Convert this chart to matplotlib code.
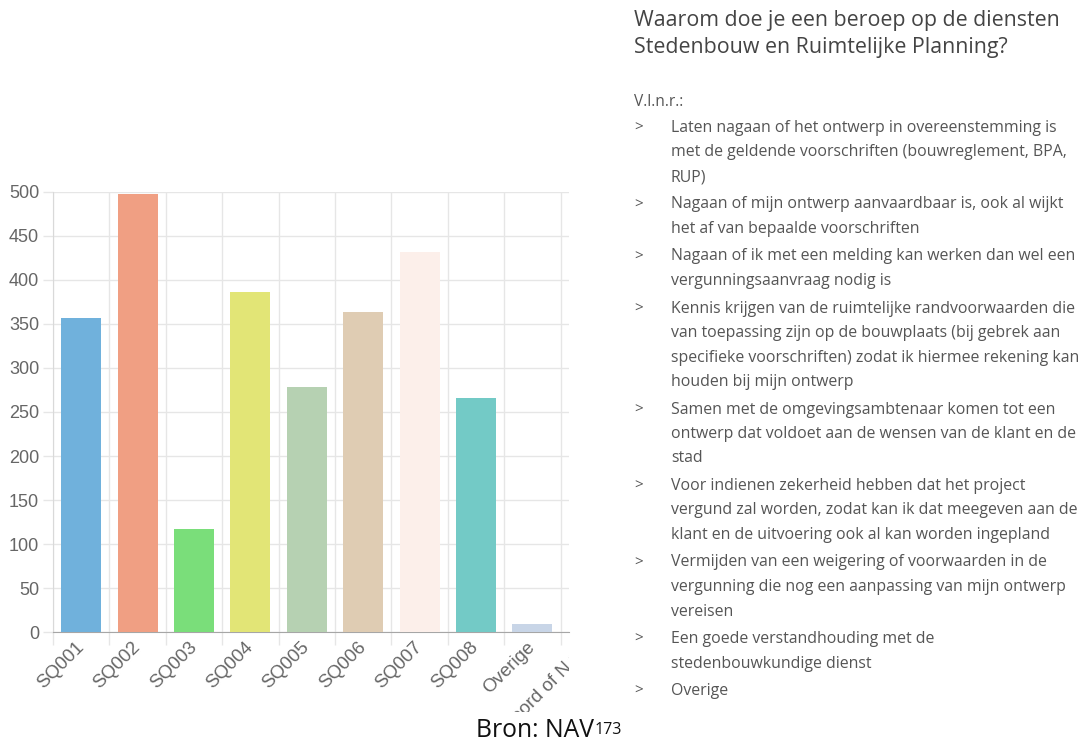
import numpy as np
import matplotlib
matplotlib.use("Agg")
import matplotlib.pyplot as plt
from matplotlib.transforms import Bbox, TransformedBbox

# answers per reason (counts)
categories = ["SQ001", "SQ002", "SQ003", "SQ004", "SQ005", "SQ006", "SQ007", "SQ008", "Overige"]
counts = [357, 497, 117, 386, 278, 364, 432, 266, 9]
extra_label = "Geen antwoord of N.v.t."
bar_colors = ["#70b1dc", "#f09f83", "#7ade7a", "#e2e576", "#b6d1b2",
              "#dfccb3", "#fcefea", "#73cac6", "#c8d5e7"]
yticks = list(range(0, 501, 50))

title_lines = ["Waarom doe je een beroep op de diensten",
               "Stedenbouw en Ruimtelijke Planning?"]
intro = "V.l.n.r.:"
reasons = [
    ["Laten nagaan of het ontwerp in overeenstemming is",
     "met de geldende voorschriften (bouwreglement, BPA,",
     "RUP)"],
    ["Nagaan of mijn ontwerp aanvaardbaar is, ook al wijkt",
     "het af van bepaalde voorschriften"],
    ["Nagaan of ik met een melding kan werken dan wel een",
     "vergunningsaanvraag nodig is"],
    ["Kennis krijgen van de ruimtelijke randvoorwaarden die",
     "van toepassing zijn op de bouwplaats (bij gebrek aan",
     "specifieke voorschriften) zodat ik hiermee rekening kan",
     "houden bij mijn ontwerp"],
    ["Samen met de omgevingsambtenaar komen tot een",
     "ontwerp dat voldoet aan de wensen van de klant en de",
     "stad"],
    ["Voor indienen zekerheid hebben dat het project",
     "vergund zal worden, zodat kan ik dat meegeven aan de",
     "klant en de uitvoering ook al kan worden ingepland"],
    ["Vermijden van een weigering of voorwaarden in de",
     "vergunning die nog een aanpassing van mijn ontwerp",
     "vereisen"],
    ["Een goede verstandhouding met de",
     "stedenbouwkundige dienst"],
    ["Overige"],
]
source = "Bron: NAV"
source_note = "173"

W, H = 1090, 742
fig = plt.figure(figsize=(W / 100, H / 100), dpi=100)


def px(x, y):
    # pixel position (from top-left) to figure fraction
    return x / W, 1 - y / H


grid_c = "#e6e6e6"
tick_c = "#666666"
plt.rcParams["font.family"] = ["Liberation Sans", "DejaVu Sans"]

ax_left, ax_right, ax_top, ax_bottom = 53, 569, 191.7, 632.3
ax = fig.add_axes([ax_left / W, 1 - ax_bottom / H,
                   (ax_right - ax_left) / W, (ax_bottom - ax_top) / H])

x = np.arange(len(categories))
ax.bar(x, counts, width=0.71, color=bar_colors, linewidth=0, zorder=3)
ax.set_xlim(-0.5, 8.65)
ax.set_ylim(0, 500)

ax.set_yticks(yticks)
ax.tick_params(axis="y", length=7, width=1, color=grid_c, pad=3,
               labelsize=13, labelcolor=tick_c)

ax.set_xticks(x)
ax.set_xticklabels(categories, rotation=45, ha="right", va="center",
                   rotation_mode="anchor")
ax.tick_params(axis="x", which="major", length=0, pad=9,
               labelsize=13.5, labelcolor=tick_c)
ax.set_xticks(np.arange(-0.5, 9.5, 1), minor=True)
ax.tick_params(axis="x", which="minor", length=9.5, width=1, color=grid_c)

ax.grid(axis="y", which="major", color=grid_c, linewidth=1, zorder=0)
ax.grid(axis="x", which="minor", color=grid_c, linewidth=1, zorder=0)
ax.set_axisbelow(True)
for side in ("top", "right"):
    ax.spines[side].set_visible(False)
ax.spines["left"].set_color("#d9d9d9")
ax.spines["bottom"].set_color("#a6a6a6")

# last category label, cut off at the edge of the chart area
chart_box = TransformedBbox(Bbox([[0, 1 - 712 / H], [ax_right / W, 1]]), fig.transFigure)
last = ax.annotate(extra_label, xy=(len(categories), 0),
                   xycoords=("data", "axes fraction"),
                   xytext=(1, -9), textcoords="offset points",
                   rotation=45, rotation_mode="anchor", ha="right", va="center",
                   fontsize=13.5, color=tick_c, annotation_clip=False)
last.set_clip_on(True)
last.set_clip_box(chart_box)

# explanation on the right
txt_font = ["Open Sans", "DejaVu Sans"]
for i, line in enumerate(title_lines):
    fig.text(*px(634, 26 + i * 27.5), line, fontsize=15.4, color="#444444",
             family=txt_font, va="baseline")

fig.text(*px(634, 106), intro, fontsize=11.2, color="#555555",
         family=txt_font, va="baseline")

y = 127
for item in reasons:
    fig.text(*px(634, y + 5), ">", fontsize=11, color="#555555",
             family=txt_font, va="baseline")
    for j, line in enumerate(item):
        fig.text(*px(671, y + 5 + j * 24.5), line, fontsize=11.45,
                 color="#555555", family=txt_font, va="baseline")
    y += len(item) * 24.5 + 3

src = fig.text(*px(476, 737), source, fontsize=17.8, color="#111111",
               family=txt_font, va="baseline")
ax.annotate(source_note, xy=(1, 0), xycoords=src, xytext=(0.5, 6.5),
            textcoords="offset points", fontsize=11.5, color="#111111",
            family=txt_font, va="baseline", ha="left", annotation_clip=False)

fig.savefig("out.png", dpi=100)
